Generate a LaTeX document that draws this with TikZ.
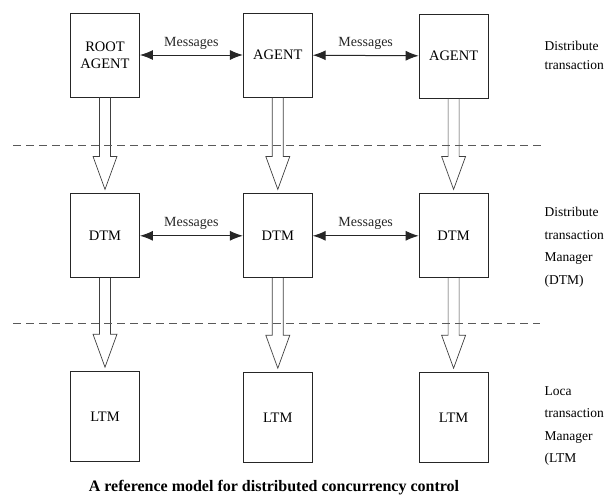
\documentclass[tikz,border=0pt]{standalone}
\usepackage{fontspec}
\setmainfont{Liberation Serif}
\usetikzlibrary{calc}
\usetikzlibrary{positioning,arrows.meta}

%% hollow block arrow between two boxes
\newcommand{\blockarrow}[2]{%
  \draw[line width=0.7pt, black!75] let \p1=(#1.south), \p2=(#2.north) in
    (\x1-5.5pt,\y1) -- (\x1-5.5pt,\y2+37pt) -- (\x1-12pt,\y2+37pt) -- (\x1,\y2+4pt)
    -- (\x1+12pt,\y2+37pt) -- (\x1+5.5pt,\y2+37pt) -- (\x1+5.5pt,\y1);
}

\begin{document}
\begin{tikzpicture}[x=1pt,y=-1pt,
    box/.style={rectangle, draw=black!85, line width=0.8pt, inner sep=0pt, align=center,
      minimum width=69pt, minimum height=84pt, font=\fontsize{14.5}{17}\selectfont},
    msg/.style={{Latex[length=13pt,width=10pt]}-{Latex[length=13pt,width=10pt]}, line width=1pt, black!85},
    sidetext/.style={anchor=west, align=left, font=\fontsize{13.5}{22.5}\selectfont},
    separator/.style={dashed, dash pattern=on 8pt off 5pt, line width=0.8pt, black!65}]
    \useasboundingbox (0,0) rectangle (613,498);

        %% Agents
        \node[box] (root) at (105,55) {ROOT\\AGENT};
        \node[box, right=103pt of root] (ag2) {AGENT};
        \node[box, right=106pt of ag2, yshift=-1pt] (ag3) {AGENT};

        %% Transaction managers
        \node[box, below=96pt of root] (dtm1) {DTM};
        \node[box, below=96pt of ag2] (dtm2) {DTM};
        \node[box, below=95pt of ag3] (dtm3) {DTM};

        %% Local managers
        \node[box, below=93pt of dtm1, minimum height=90pt] (ltm1) {LTM};
        \node[box, below=94pt of dtm2, minimum height=90pt] (ltm2) {LTM};
        \node[box, below=94pt of dtm3, minimum height=90pt] (ltm3) {LTM};

        %% Messages
        \draw[msg] (root) -- node[above=2pt, font=\fontsize{14}{16}\selectfont] (m1) {Messages} (ag2);
        \draw[msg] (ag2) -- node[above=2pt, font=\fontsize{14}{16}\selectfont] (m2) {Messages} (ag3);
        \draw[msg] (dtm1) -- node[above=2pt, font=\fontsize{14}{16}\selectfont] (m3) {Messages} (dtm2);
        \draw[msg] (dtm2) -- node[above=2pt, font=\fontsize{14}{16}\selectfont] (m4) {Messages} (dtm3);

        %% Downward block arrows
        \blockarrow{root}{dtm1}
        \blockarrow{ag2}{dtm2}
        \blockarrow{ag3}{dtm3}
        \blockarrow{dtm1}{ltm1}
        \blockarrow{dtm2}{ltm2}
        \blockarrow{dtm3}{ltm3}

        %% Layer separators
        \coordinate (s1w) at (13,145);
        \coordinate (s1e) at (542,145);
        \coordinate (s2w) at (13,323);
        \coordinate (s2e) at (540,323);
        \draw[separator] (s1w) -- (s1e);
        \draw[separator] (s2w) -- (s2e);

        %% Layer names
        \node[sidetext, font=\fontsize{13.5}{19}\selectfont] (t1) at (541,55) {Distribute\\transaction};
        \node[sidetext] (t2) at (541,247) {Distribute\\transaction\\Manager\\(DTM)};
        \node[sidetext] (t3) at (541,426) {Loca\\transaction\\Manager\\(LTM};

        %% Caption
        \node[font=\bfseries\fontsize{16}{18}\selectfont] (cap) at (274,488) {A reference model for distributed concurrency control};
\end{tikzpicture}
\end{document}
